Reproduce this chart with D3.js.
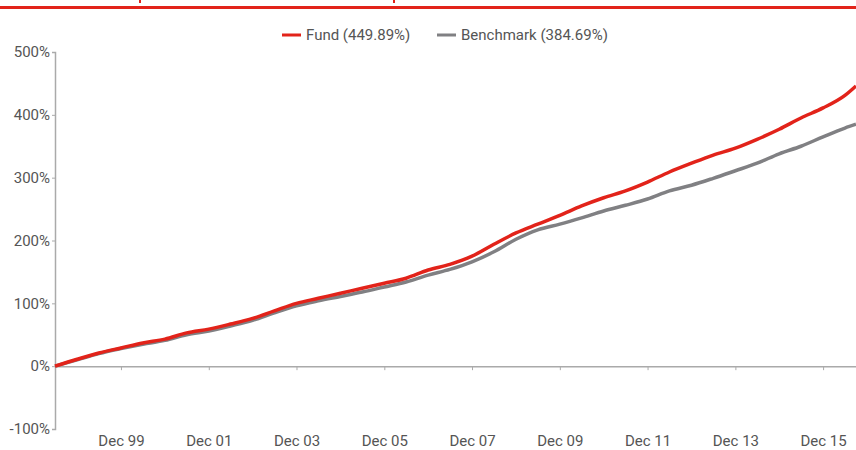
<!DOCTYPE html>
<html>
<head>
<meta charset="utf-8">
<style>
body { margin: 0; background: white; }
.lbl { font-family: Roboto, "DejaVu Sans", sans-serif; fill: #555; }
</style>
<script src="https://d3js.org/d3.v7.min.js" charset="utf-8"></script>
</head>
<body>
<div id="chart"></div>
<script>
// half-yearly readings, cumulative growth in %
var dates = ["1998-06-30","1998-12-31","1999-06-30","1999-12-31","2000-06-30","2000-12-31",
             "2001-06-30","2001-12-31","2002-06-30","2002-12-31","2003-06-30","2003-12-31",
             "2004-06-30","2004-12-31","2005-06-30","2005-12-31","2006-06-30","2006-12-31",
             "2007-06-30","2007-12-31","2008-06-30","2008-12-31","2009-06-30","2009-12-31",
             "2010-06-30","2010-12-31","2011-06-30","2011-12-31","2012-06-30","2012-12-31",
             "2013-06-30","2013-12-31","2014-06-30","2014-12-31","2015-06-30","2015-12-31",
             "2016-06-30","2016-09-30"];
var fundValues = [0, 11, 21, 29, 37, 43, 53, 59, 67, 76, 88, 100,
                  108, 116, 124, 132, 140, 153, 162, 175, 194, 212, 226, 240,
                  255, 268, 279, 293, 309, 323, 336, 347, 361, 377, 395, 411,
                  431, 446];
var benchValues = [0, 10, 20, 28, 35, 41, 50, 56, 64, 73, 85, 96,
                   104, 111, 118, 126, 134, 145, 154, 166, 182, 202, 217, 226,
                   236, 247, 256, 266, 279, 288, 299, 311, 323, 338, 350, 365,
                   379, 385];
var seriesNames = ["Fund (449.89%)", "Benchmark (384.69%)"];
var seriesColors = ["#e2231a", "#808083"];
var yTicks = [-100, 0, 100, 200, 300, 400, 500];
var xTicks = ["1999-12-31","2001-12-31","2003-12-31","2005-12-31","2007-12-31",
              "2009-12-31","2011-12-31","2013-12-31","2015-12-31"];
var xTickLabels = ["Dec 99","Dec 01","Dec 03","Dec 05","Dec 07","Dec 09","Dec 11","Dec 13","Dec 15"];

var W = 856, H = 450;
var margin = {top: 52, right: 0, bottom: 21, left: 55};
var parse = d3.timeParse("%Y-%m-%d");

var svg = d3.select("#chart").append("svg")
    .attr("width", W)
    .attr("height", H);

// red rule left over from the page header
svg.append("rect").attr("x", 0).attr("y", 6).attr("width", W).attr("height", 3).attr("fill", "#e2231a");
svg.append("rect").attr("x", 139).attr("y", 0).attr("width", 2).attr("height", 3).attr("fill", "#e2231a");
svg.append("rect").attr("x", 393).attr("y", 0).attr("width", 2).attr("height", 3).attr("fill", "#e2231a");

var x = d3.scaleTime()
    .domain([parse(dates[0]), parse(dates[dates.length - 1])])
    .range([margin.left, W - margin.right]);
var y = d3.scaleLinear()
    .domain([-100, 500])
    .range([H - margin.bottom, margin.top]);

// y axis
var yAxis = svg.append("g")
    .attr("transform", "translate(" + margin.left + ",0)")
    .call(d3.axisLeft(y).tickValues(yTicks).tickSize(3).tickPadding(2)
          .tickFormat(function(d) { return d + "%"; }));
yAxis.select(".domain").attr("stroke", "#aaa").attr("stroke-width", 1.5);
yAxis.selectAll(".tick line").attr("stroke", "#aaa");
yAxis.selectAll("text").attr("class", "lbl").style("font-size", "15px").attr("fill", "#555");

// x axis on the zero line, labels at the bottom
var xAxis = svg.append("g")
    .attr("transform", "translate(0," + y(0) + ")")
    .call(d3.axisBottom(x).tickValues(xTicks.map(parse)).tickSize(4).tickSizeOuter(0)
          .tickFormat(function(d, i) { return xTickLabels[i]; }));
xAxis.select(".domain").attr("stroke", "#aaa").attr("stroke-width", 1.5);
xAxis.selectAll(".tick line").attr("stroke", "#aaa");
xAxis.selectAll("text").attr("class", "lbl").style("font-size", "15px").attr("fill", "#555")
    .attr("dy", null)
    .attr("y", H - 4 - y(0));

var line = d3.line()
    .curve(d3.curveMonotoneX)
    .x(function(d) { return x(d.date); })
    .y(function(d) { return y(d.v); });

var series = [benchValues, fundValues];
var seriesCol = [seriesColors[1], seriesColors[0]];
series.forEach(function(vals, k) {
    var pts = vals.map(function(v, i) { return {date: parse(dates[i]), v: v}; });
    svg.append("path")
        .datum(pts)
        .attr("fill", "none")
        .attr("stroke", seriesCol[k])
        .attr("stroke-width", 3.5)
        .attr("stroke-linejoin", "round")
        .attr("d", line);
});

// legend
var legendX = [282, 437];
var leg = svg.append("g");
seriesNames.forEach(function(name, i) {
    leg.append("line")
        .attr("x1", legendX[i]).attr("x2", legendX[i] + 19)
        .attr("y1", 35).attr("y2", 35)
        .attr("stroke", seriesColors[i]).attr("stroke-width", 3);
    leg.append("text")
        .attr("class", "lbl")
        .attr("x", legendX[i] + 24).attr("y", 40)
        .style("font-size", "15px")
        .text(name);
});
</script>
</body>
</html>
